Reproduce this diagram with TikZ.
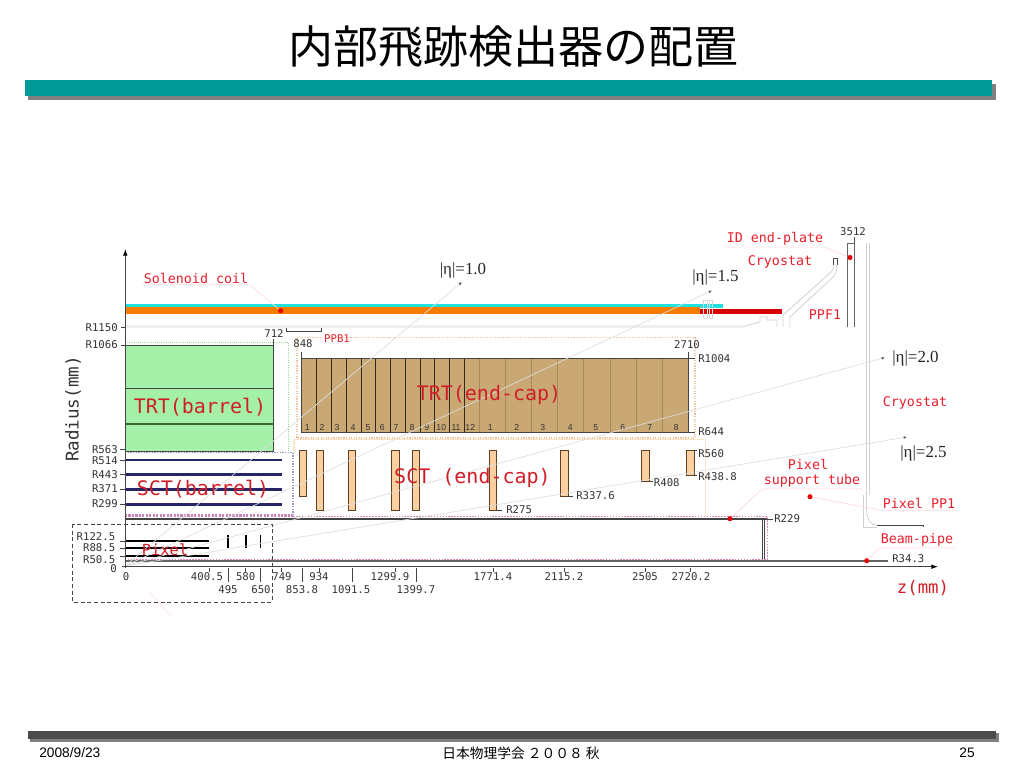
\documentclass[tikz,border=0pt]{standalone}
\usepackage{fontspec}
\setmainfont{Liberation Sans}
\newfontfamily\monofont{DejaVu Sans Mono}
\newfontfamily\cjkfont{Noto Sans CJK JP}
\newfontfamily\etafont{Liberation Serif}
\usetikzlibrary{arrows.meta}

\definecolor{barteal}{HTML}{009999}
\definecolor{redlabel}{HTML}{E8202C}
\definecolor{coilorange}{HTML}{F57C00}
\definecolor{coilcyan}{HTML}{20E0E0}
\definecolor{trtgreen}{HTML}{A4F0A8}
\definecolor{trttan}{HTML}{C9A874}
\definecolor{sctpeach}{HTML}{FAD0A0}
\definecolor{darkline}{HTML}{444444}

\tikzset{
 numlab/.style={inner sep=0,text=black!80,font=\monofont\fontsize{8pt}{9pt}\selectfont},
 redlab/.style={inner sep=1,text=redlabel,font=\monofont\fontsize{10pt}{11pt}\selectfont},
 biglab/.style={inner sep=0,text=redlabel!90!black,font=\monofont\fontsize{15pt}{16pt}\selectfont},
 etalab/.style={inner sep=0,text=black!85,font=\etafont\fontsize{12.7pt}{14pt}\selectfont},
 modnum/.style={inner sep=0,text=black!80,font=\fontsize{6.5pt}{7pt}\selectfont},
 footlab/.style={inner sep=0,text=black,font=\fontsize{10.3pt}{12pt}\selectfont},
 tick/.style={darkline,line width=0.45pt},
 etaline/.style={black!13,line width=0.5pt,-{Latex[length=2.5pt,width=2pt,black!70]}},
 leader/.style={red!14,line width=0.5pt},
 reddot/.style={circle,fill=red!90!black,inner sep=0,minimum size=3.8pt},
 sctbox/.style={draw=black!50!brown,fill=sctpeach,line width=0.6pt},
 lightdiv/.style={black!18!trttan,line width=0.4pt},
 darkdiv/.style={black!75!trttan,line width=0.6pt},
 sctline/.style={black!70!blue!85!white,line width=1.9pt},
 pixline/.style={black,line width=1.5pt},
}

\begin{document}
\begin{tikzpicture}[x=0.75pt,y=-0.75pt]
\useasboundingbox (0,0) rectangle (1024,768);
\fill[white] (0,0) rectangle (1024,768);

\node[inner sep=0,font=\cjkfont\fontsize{33.75pt}{36pt}\selectfont] (title) at (513,47) {内部飛跡検出器の配置};
\fill[black!50] (28,84) rectangle (996,99.5);%barre du haut
\fill[barteal] (25,80) rectangle (992,96);
\fill[black!50] (30,733) rectangle (999,742);%barre du bas
\fill[black!70] (28,731) rectangle (996,739);

% barrel TRT
\fill[trtgreen] (125,345) rectangle (273.5,451);
\draw[darkline,line width=0.6pt] (125,345) -- (273.5,345) -- (273.5,451) -- (125,451);
\draw[darkline,line width=0.6pt] (125,388) -- (273.5,388);
\draw[darkline!80!green,line width=0.9pt] (125,424) -- (273.5,424);
\draw[green!60!gray!55,densely dotted,line width=0.6pt] (125,342) -- (288,342) -- (288,452);

% boxes
\draw[orange!45!brown!45,densely dotted,line width=0.9pt] (297,337.5) rectangle (695,438);
\draw[orange!22,line width=0.8pt] (294,452) -- (294,439.5) -- (705.5,439.5) -- (705.5,516);
\draw[blue!35!gray!60,densely dotted,line width=1pt] (125,452.5) -- (293,452.5) -- (293,515);
\draw[violet!60!pink!70,densely dotted,line width=1.6pt] (125,515.5) -- (293,515.5);
\draw[magenta!50!violet!55,densely dotted,line width=1.2pt] (293,516.5) -- (767.5,516.5) -- (767.5,559.5) -- (125,559.5);

% end-cap TRT
\fill[trttan] (301.7,358.3) rectangle (688,432.7);
\draw[lightdiv] (479.3,358.3) -- (479.3,432.7);
\draw[lightdiv] (505.3,358.3) -- (505.3,432.7);
\draw[lightdiv] (531.5,358.3) -- (531.5,432.7);
\draw[lightdiv] (557.7,358.3) -- (557.7,432.7);
\draw[lightdiv] (583.7,358.3) -- (583.7,432.7);
\draw[lightdiv] (610,358.3) -- (610,432.7);
\draw[lightdiv] (636,358.3) -- (636,432.7);
\draw[lightdiv] (662,358.3) -- (662,432.7);
\draw[darkdiv] (316.3,358.3) -- (316.3,432.7);
\draw[darkdiv] (331.3,358.3) -- (331.3,432.7);
\draw[darkdiv] (346.3,358.3) -- (346.3,432.7);
\draw[darkdiv] (361,358.3) -- (361,432.7);
\draw[darkdiv] (375.3,358.3) -- (375.3,432.7);
\draw[darkdiv] (390.7,358.3) -- (390.7,432.7);
\draw[darkdiv] (405.7,358.3) -- (405.7,432.7);
\draw[darkdiv] (420.3,358.3) -- (420.3,432.7);
\draw[darkdiv] (434.7,358.3) -- (434.7,432.7);
\draw[darkdiv] (449.3,358.3) -- (449.3,432.7);
\draw[darkdiv] (464.3,358.3) -- (464.3,432.7);
\draw[darkline,line width=0.6pt] (301.7,358.3) rectangle (688,432.7);

\node[modnum] (ma1) at (307.3,427.7) {1};
\node[modnum] (ma2) at (322,427.7) {2};
\node[modnum] (ma3) at (337,427.7) {3};
\node[modnum] (ma4) at (353,427.7) {4};
\node[modnum] (ma5) at (368,427.7) {5};
\node[modnum] (ma6) at (382.3,427.7) {6};
\node[modnum] (ma7) at (396,427.7) {7};
\node[modnum] (ma8) at (412,427.7) {8};
\node[modnum] (ma9) at (426.7,427.7) {9};
\node[modnum] (ma10) at (441.3,427.7) {10};
\node[modnum] (ma11) at (456,427.7) {11};
\node[modnum] (ma12) at (470.3,427.7) {12};
\node[modnum] (mb1) at (490.3,427.7) {1};
\node[modnum] (mb2) at (516.7,427.7) {2};
\node[modnum] (mb3) at (542.7,427.7) {3};
\node[modnum] (mb4) at (570.3,427.7) {4};
\node[modnum] (mb5) at (595.7,427.7) {5};
\node[modnum] (mb6) at (622.7,427.7) {6};
\node[modnum] (mb7) at (649.7,427.7) {7};
\node[modnum] (mb8) at (676.3,427.7) {8};

% end-cap SCT
\draw[sctbox] (299.3,450.7) rectangle (306.7,496.7);
\draw[sctbox] (316,450.7) rectangle (323,510);
\draw[sctbox] (348.3,450.7) rectangle (355.7,510);
\draw[sctbox] (391.7,450.7) rectangle (399.3,510);
\draw[sctbox] (412,450.7) rectangle (419.7,510);
\draw[sctbox] (489.7,450.7) rectangle (496.7,510);
\draw[sctbox] (560.3,450.7) rectangle (568.3,496.7);
\draw[sctbox] (641.7,450.7) rectangle (649.3,481.7);
\draw[sctbox] (686.7,450.7) rectangle (694,475.3);

% barrel SCT and pixel
\draw[sctline] (125,460) -- (282,460);
\draw[sctline] (125,474.5) -- (282,474.5);
\draw[sctline] (125,489.5) -- (282,489.5);
\draw[sctline] (125,504.5) -- (282,504.5);
\draw[pixline] (125,541) -- (209,541);
\draw[pixline] (125,548.3) -- (209,548.3);
\draw[pixline] (125,556) -- (209,556);
\draw[pixline] (228,535) -- (228,548);
\draw[pixline] (245.7,535) -- (245.7,548);
\draw[black,line width=1.1pt] (260.7,535) -- (260.7,548);

% support tube, beam pipe
\draw[darkline,line width=0.8pt] (125,519) -- (767,519);
\draw[darkline,line width=0.6pt] (762,519) -- (762,559);
\draw[darkline,line width=0.6pt] (764,519) -- (764,559);
\draw[black!60,line width=1.1pt] (125,561) -- (888,561);

% coil
\fill[coilcyan] (125,304) rectangle (723,307.5);
\fill[coilorange] (125,307) rectangle (700,314);
\fill[red!85!black] (700,309) rectangle (782,313.5);
\draw[black!15,line width=0.5pt] (703,300) rectangle (707,318);
\draw[black!15,line width=0.5pt] (709,300) rectangle (712,318);
\fill[black!6] (125,325) rectangle (745,328);

% cryostat and end-plate
\draw[black!18,line width=0.6pt] (745,326) -- (760,322) -- (760,317) -- (767,317) -- (767,320) -- (777,320) -- (777,327);
\draw[black!18,line width=0.6pt] (783,327) -- (783,315) -- (830,273) .. controls (833,270) .. (834,265);
\draw[black!18,line width=0.6pt] (790,327) -- (790,317) -- (833,277) .. controls (836,273) .. (837,265);
\draw[black!70,line width=0.5pt] (833,265) -- (833,258) -- (837,258) -- (837,265);
\draw[black!60,line width=0.7pt] (847,327) -- (847,243) -- (854,243) -- (854,327);
\draw[black!70,line width=0.5pt] (854,243) -- (854,237);
\draw[black!18,line width=0.6pt] (866.5,243) -- (866.5,508) .. controls (867,520) and (870,525) .. (877,525);
\draw[black!18,line width=0.6pt] (869.5,243) -- (869.5,495);
\draw[black!18,line width=0.5pt] (863,495) -- (863,527) -- (877,527);
\draw[darkline,line width=0.7pt] (877,525) -- (923,525) -- (923,527);

% eta lines
\coordinate (etaorig) at (125,566);
\coordinate (etaA) at (462,282);
\coordinate (etaB) at (712,290.5);
\coordinate (etaC) at (885,357.5);
\coordinate (etaD) at (907,437);
\draw[etaline] (etaorig) -- (etaA);
\draw[etaline] (etaorig) -- (etaB);
\draw[etaline] (etaorig) -- (etaC);
\draw[etaline] (etaorig) -- (etaD);
\node[etalab] (etaone) at (463,270) {|η|=1.0};
\node[etalab] (etatwo) at (715.5,277) {|η|=1.5};
\node[etalab] (etathree) at (915.5,358) {|η|=2.0};
\node[etalab] (etafour) at (923.5,453) {|η|=2.5};

% axes
\draw[darkline,line width=0.7pt,-{Latex[length=5pt,width=3.5pt,black]}] (125.3,568) -- (125.3,249);
\draw[darkline,line width=0.7pt,-{Latex[length=5pt,width=3.5pt,black]}] (122,566.7) -- (938,566.7);
\draw[darkline,line width=0.6pt] (286.7,328) -- (286.7,331) -- (321,331) -- (321,328);
\draw[densely dashed,darkline,line width=0.6pt] (72,524) rectangle (272,602);
\draw[red!12,line width=0.5pt] (150,593) -- (172,617);

% radius labels
\node[numlab,anchor=east] (r1150) at (118,327.5) {R1150};
\node[numlab,anchor=east] (r1066) at (118,345) {R1066};
\node[numlab,anchor=east] (r563) at (118,449.5) {R563};
\node[numlab,anchor=east] (r514) at (118,461) {R514};
\node[numlab,anchor=east] (r443) at (118,474.5) {R443};
\node[numlab,anchor=east] (r371) at (118,489) {R371};
\node[numlab,anchor=east] (r299) at (118,504) {R299};
\node[numlab,anchor=east] (r122) at (115.5,536.5) {R122.5};
\node[numlab,anchor=east] (r88) at (115.5,548) {R88.5};
\node[numlab,anchor=east] (r50) at (115.5,559.5) {R50.5};
\node[numlab,anchor=east] (rzero) at (117,568.5) {0};
\draw[tick] (121,327.5) -- (125,327.5);
\draw[tick] (121,345) -- (125,345);
\draw[tick] (120,449.5) -- (125,449.5);
\draw[tick] (120,460) -- (125,460);
\draw[tick] (120,474.5) -- (125,474.5);
\draw[tick] (120,489.5) -- (125,489.5);
\draw[tick] (120,504.5) -- (125,504.5);
\draw[tick] (120,541) -- (125,541);
\draw[tick] (120,548.3) -- (125,548.3);
\draw[tick] (120,556) -- (125,556);

\node[numlab,anchor=west] (r1004) at (698,358.5) {R1004};
\node[numlab,anchor=west] (r644) at (698,432) {R644};
\node[numlab,anchor=west] (r560) at (698,453.5) {R560};
\node[numlab,anchor=west] (r438) at (698,476.5) {R438.8};
\node[numlab,anchor=west] (r408) at (653.7,482.5) {R408};
\node[numlab,anchor=west] (r337) at (576,496) {R337.6};
\node[numlab,anchor=west] (r275) at (506,509.5) {R275};
\node[numlab,anchor=west] (r229) at (774,519) {R229};
\node[numlab,anchor=west] (r34) at (892,559) {R34.3};
\draw[tick] (688,358.3) -- (695,358.3);
\draw[tick] (688,432.7) -- (695,432.7);
\draw[tick] (694,450.7) -- (697,450.7);
\draw[tick] (694,475.3) -- (697,475.3);
\draw[tick] (649,481.7) -- (653,481.7);
\draw[tick] (568,496.7) -- (573,496.7);
\draw[tick] (497,510) -- (502,510);
\draw[tick] (767,519) -- (773,519);

\node[numlab] (zsev) at (274,334) {712};
\node[numlab] (zeight) at (303,344) {848};
\node[numlab] (ztwo) at (687,345) {2710};
\node[numlab] (zthree) at (853,232) {3512};
\draw[tick] (301.7,352) -- (301.7,358);
\draw[tick] (688,352) -- (688,358);
\draw[tick] (273.5,339) -- (273.5,345);

% z labels
\node[numlab] (zzero) at (126,577) {0};
\node[numlab] (za) at (207,577) {400.5};
\node[numlab] (zb) at (245.7,577) {580};
\node[numlab] (zc) at (282,577) {749};
\node[numlab] (zd) at (319,577) {934};
\node[numlab] (ze) at (390,577) {1299.9};
\node[numlab] (zf) at (493,577) {1771.4};
\node[numlab] (zg) at (564,577) {2115.2};
\node[numlab] (zh) at (645,577) {2505};
\node[numlab] (zi) at (691,577) {2720.2};
\node[numlab] (zj) at (228,589.5) {495};
\node[numlab] (zk) at (261,589.5) {650};
\node[numlab] (zl) at (302,589.5) {853.8};
\node[numlab] (zm) at (351,589.5) {1091.5};
\node[numlab] (zn) at (416,589.5) {1399.7};
\draw[tick] (209,568) -- (209,572);
\draw[tick] (245.7,568) -- (245.7,572);
\draw[tick] (281,568) -- (281,572);
\draw[tick] (319.3,568) -- (319.3,572);
\draw[tick] (395,568) -- (395,572);
\draw[tick] (493,568) -- (493,572);
\draw[tick] (564.5,568) -- (564.5,572);
\draw[tick] (645,568) -- (645,572);
\draw[tick] (690,568) -- (690,572);
\draw[tick] (228,568) -- (228,582);
\draw[tick] (260.7,568) -- (260.7,582);
\draw[tick] (302.3,568) -- (302.3,582);
\draw[tick] (352.5,568) -- (352.5,582);
\draw[tick] (416,568) -- (416,582);

\node[inner sep=0,rotate=90,text=black!80,font=\monofont\fontsize{13.2pt}{14pt}\selectfont] (radius) at (73,409) {Radius(mm)};

% red labels
\node[biglab] (trtbar) at (200,407) {TRT(barrel)};
\node[biglab] (sctbar) at (203,489) {SCT(barrel)};
\node[biglab] (trtend) at (489,395) {TRT(end-cap)};
\node[biglab] (sctend) at (472.5,478) {SCT (end-cap)};
\node[biglab,font=\monofont\fontsize{11.5pt}{12pt}\selectfont] (pixel) at (165,550) {Pixel};
\node[biglab,font=\monofont\fontsize{13pt}{14pt}\selectfont] (zmm) at (923,588) {z(mm)};
\node[redlab,font=\monofont\fontsize{8pt}{9pt}\selectfont] (ppb) at (337,339) {PPB1};
\node[redlab] (solenoid) at (196,278) {Solenoid coil};
\node[redlab] (endplate) at (775,239) {ID end-plate};
\node[redlab] (cryoa) at (780,262) {Cryostat};
\node[redlab] (ppf) at (825,315) {PPF1};
\node[redlab] (cryob) at (915,403) {Cryostat};
\node[redlab] (pixa) at (808,464) {Pixel};
\node[redlab] (pixb) at (812,481) {support tube};
\node[redlab] (pixpp) at (919,503.5) {Pixel PP1};
\node[redlab] (beam) at (917,540) {Beam-pipe};

% red dots and their leaders
\node[reddot] (soldot) at (280.7,310.7) {};
\node[reddot] (platedot) at (850,257.5) {};
\node[reddot] (tubedot) at (730,518.7) {};
\node[reddot] (ppdot) at (810,496.7) {};
\node[reddot] (beamdot) at (866.7,560.7) {};
\draw[leader] (solenoid.south west) -- (solenoid.south east) -- (soldot);
\draw[leader] (endplate.south west) -- (endplate.south east) -- (platedot);
\draw[leader] (pixb.south east) -- (pixb.south west) -- (tubedot);
\draw[leader] (pixpp.south east) -- (pixpp.south west) -- (ppdot);
\draw[leader] (beam.south east) -- (beam.south west) -- (beamdot);

% footer
\node[footlab,anchor=west] (date) at (39,753) {2008/9/23};
\node[footlab,font=\cjkfont\fontsize{10.3pt}{12pt}\selectfont] (meeting) at (521,753) {日本物理学会 ２００８ 秋};
\node[footlab,anchor=east] (page) at (975,753) {25};
\end{tikzpicture}
\end{document}
